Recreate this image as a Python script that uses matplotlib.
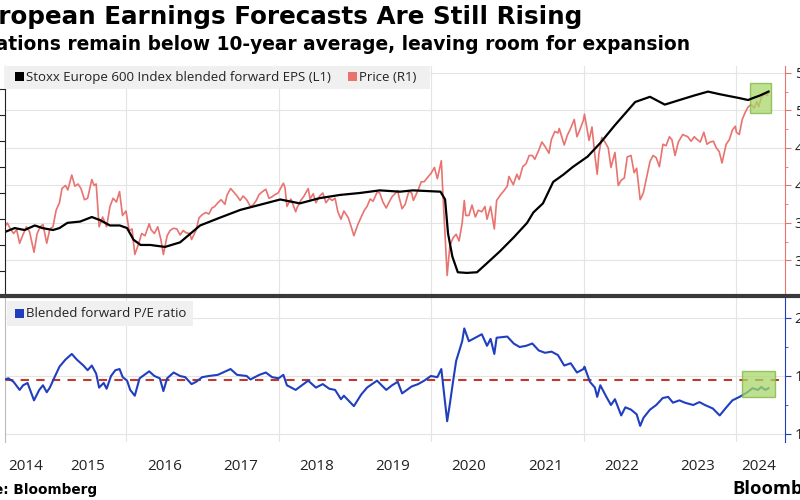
import matplotlib
matplotlib.use('Agg')
import matplotlib.pyplot as plt
from matplotlib.patches import Rectangle
from matplotlib.lines import Line2D
import pandas as pd

# Stoxx Europe 600 price (R1)
price_dates = [
    "2014-05-30", "2014-06-10", "2014-06-25", "2014-07-10", "2014-07-25", "2014-08-08", "2014-08-25",
    "2014-09-10", "2014-09-25", "2014-10-16", "2014-10-31", "2014-11-15", "2014-11-28", "2014-12-16",
    "2014-12-31", "2015-01-15", "2015-01-30", "2015-02-15", "2015-02-27", "2015-03-16", "2015-03-27",
    "2015-04-15", "2015-04-30", "2015-05-15", "2015-05-29", "2015-06-15", "2015-06-30", "2015-07-20",
    "2015-07-31", "2015-08-10", "2015-08-24", "2015-09-10", "2015-09-29", "2015-10-15", "2015-10-30",
    "2015-11-15", "2015-11-30", "2015-12-14", "2015-12-31", "2016-01-15", "2016-01-29", "2016-02-11",
    "2016-02-29", "2016-03-15", "2016-03-31", "2016-04-20", "2016-04-29", "2016-05-15", "2016-05-31",
    "2016-06-15", "2016-06-27", "2016-07-15", "2016-07-29", "2016-08-15", "2016-08-31", "2016-09-15",
    "2016-09-30", "2016-10-14", "2016-10-31", "2016-11-09", "2016-11-30", "2016-12-15", "2016-12-30",
    "2017-01-16", "2017-01-31", "2017-02-15", "2017-02-28", "2017-03-15", "2017-03-31", "2017-04-18",
    "2017-04-28", "2017-05-15", "2017-05-31", "2017-06-15", "2017-06-30", "2017-07-14", "2017-07-31",
    "2017-08-18", "2017-08-31", "2017-09-15", "2017-09-29", "2017-10-16", "2017-10-31", "2017-11-15",
    "2017-11-30", "2017-12-15", "2017-12-29", "2018-01-23", "2018-01-31", "2018-02-09", "2018-02-28",
    "2018-03-23", "2018-03-29", "2018-04-16", "2018-04-30", "2018-05-22", "2018-05-31", "2018-06-15",
    "2018-06-28", "2018-07-16", "2018-07-31", "2018-08-15", "2018-08-31", "2018-09-14", "2018-09-28",
    "2018-10-11", "2018-10-26", "2018-11-09", "2018-11-30", "2018-12-14", "2018-12-27", "2019-01-15",
    "2019-01-31", "2019-02-15", "2019-02-28", "2019-03-15", "2019-03-29", "2019-04-17", "2019-04-30",
    "2019-05-15", "2019-05-31", "2019-06-14", "2019-06-28", "2019-07-25", "2019-07-31", "2019-08-15",
    "2019-08-30", "2019-09-16", "2019-09-30", "2019-10-08", "2019-10-31", "2019-11-15", "2019-11-29",
    "2019-12-13", "2019-12-31", "2020-01-17", "2020-01-31", "2020-02-19", "2020-02-28", "2020-03-12",
    "2020-03-18", "2020-03-31", "2020-04-15", "2020-04-30", "2020-05-14", "2020-05-29", "2020-06-08",
    "2020-06-15", "2020-06-30", "2020-07-15", "2020-07-31", "2020-08-14", "2020-08-31", "2020-09-15",
    "2020-09-25", "2020-10-12", "2020-10-30", "2020-11-10", "2020-11-30", "2020-12-15", "2020-12-31",
    "2021-01-08", "2021-01-29", "2021-02-15", "2021-02-26", "2021-03-15", "2021-03-31", "2021-04-15",
    "2021-04-30", "2021-05-12", "2021-05-31", "2021-06-15", "2021-06-30", "2021-07-19", "2021-07-30",
    "2021-08-16", "2021-08-31", "2021-09-06", "2021-09-30", "2021-10-15", "2021-10-29", "2021-11-17",
    "2021-11-30", "2021-12-15", "2021-12-31", "2022-01-05", "2022-01-27", "2022-02-10", "2022-02-24",
    "2022-03-07", "2022-03-15", "2022-03-29", "2022-04-15", "2022-04-29", "2022-05-12", "2022-05-31",
    "2022-06-16", "2022-06-30", "2022-07-15", "2022-07-29", "2022-08-16", "2022-08-31", "2022-09-12",
    "2022-09-29", "2022-10-14", "2022-10-31", "2022-11-15", "2022-11-30", "2022-12-15", "2022-12-30",
    "2023-01-16", "2023-01-31", "2023-02-16", "2023-02-28", "2023-03-15", "2023-03-31", "2023-04-21",
    "2023-04-28", "2023-05-15", "2023-05-31", "2023-06-15", "2023-06-30", "2023-07-14", "2023-07-31",
    "2023-08-15", "2023-08-31", "2023-09-15", "2023-09-29", "2023-10-13", "2023-10-26", "2023-11-15",
    "2023-11-30", "2023-12-15", "2023-12-29", "2024-01-03", "2024-01-17", "2024-01-31", "2024-02-15",
    "2024-02-29", "2024-03-15", "2024-03-28", "2024-04-10", "2024-04-19", "2024-04-30", "2024-05-15",
    "2024-05-31", "2024-06-05",
]
price_vals = [
    346, 350, 342, 336, 341, 323, 335,
    345, 338, 311, 336, 345, 348, 323,
    342, 345, 367, 377, 396, 400, 394,
    414, 399, 402, 396, 381, 383, 408,
    400, 402, 345, 358, 345, 372, 383,
    378, 392, 360, 366, 340, 342, 308,
    322, 336, 333, 349, 341, 336, 345,
    328, 308, 333, 340, 343, 342, 334,
    340, 337, 336, 328, 340, 357, 361,
    364, 362, 370, 372, 377, 381, 375,
    387, 396, 391, 386, 380, 386, 381,
    372, 374, 380, 388, 392, 395, 383,
    385, 388, 390, 403, 397, 372, 382,
    365, 370, 380, 385, 396, 382, 389,
    377, 386, 390, 377, 383, 380, 383,
    365, 355, 366, 357, 345, 333, 348,
    358, 367, 372, 382, 379, 391, 390,
    378, 370, 378, 385, 393, 385, 369,
    375, 392, 390, 380, 394, 405, 405,
    410, 416, 424, 409, 433, 381, 312,
    280, 320, 330, 335, 326, 350, 380,
    360, 360, 374, 358, 367, 365, 372,
    355, 372, 342, 380, 388, 393, 399,
    412, 401, 415, 408, 425, 429, 440,
    440, 435, 447, 458, 452, 443, 461,
    472, 470, 476, 454, 467, 475, 488,
    465, 475, 487, 495, 460, 478, 440,
    415, 442, 464, 457, 450, 424, 444,
    400, 407, 410, 438, 440, 417, 423,
    381, 390, 412, 432, 440, 437, 425,
    455, 453, 465, 461, 440, 458, 468,
    467, 465, 459, 465, 461, 458, 471,
    455, 458, 459, 450, 445, 430, 455,
    461, 474, 479, 471, 468, 488, 498,
    505, 508, 503, 512, 505, 516, 522,
    520, 526,
]

# Blended forward EPS (L1)
eps_dates = [
    "2014-05-30", "2014-07-15", "2014-09-01", "2014-10-20", "2014-11-25", "2015-01-15", "2015-02-15",
    "2015-03-25", "2015-05-25", "2015-07-20", "2015-08-30", "2015-10-15", "2015-12-01", "2016-01-05",
    "2016-02-05", "2016-03-10", "2016-04-25", "2016-07-05", "2016-09-15", "2016-12-20", "2017-03-25",
    "2017-07-01", "2017-10-05", "2018-01-08", "2018-04-12", "2018-07-15", "2018-10-22", "2019-01-25",
    "2019-04-30", "2019-08-05", "2019-10-05", "2020-02-15", "2020-03-08", "2020-03-22", "2020-04-12",
    "2020-05-08", "2020-06-20", "2020-08-08", "2020-09-25", "2020-11-25", "2021-02-01", "2021-04-05",
    "2021-05-05", "2021-06-20", "2021-08-08", "2021-09-25", "2021-11-10", "2022-01-20", "2022-03-22",
    "2022-05-30", "2022-09-05", "2022-11-15", "2023-01-25", "2023-04-05", "2023-06-15", "2023-08-20",
    "2023-10-15", "2023-12-01", "2024-01-18", "2024-02-28", "2024-03-22", "2024-04-25", "2024-06-05",
]
eps_vals = [
    25.0, 25.3, 25.15, 25.5, 25.3, 25.15, 25.3,
    25.7, 25.8, 26.15, 25.9, 25.5, 25.5, 25.3,
    24.4, 24.0, 24.0, 23.85, 24.2, 25.5, 26.1,
    26.7, 27.1, 27.5, 27.2, 27.6, 27.85, 28.0,
    28.2, 28.1, 28.2, 28.1, 27.5, 24.9, 23.1,
    21.9, 21.85, 21.9, 22.6, 23.5, 24.6, 25.7,
    26.5, 27.2, 28.85, 29.4, 30.0, 30.8, 31.85,
    33.2, 35.0, 35.4, 34.8, 35.15, 35.5, 35.8,
    35.6, 35.45, 35.3, 35.15, 35.3, 35.5, 35.8,
]

# Blended forward P/E ratio
pe_dates = [
    "2014-05-30", "2014-06-15", "2014-07-10", "2014-08-08", "2014-08-25", "2014-09-15", "2014-10-16",
    "2014-11-10", "2014-11-28", "2014-12-16", "2014-12-31", "2015-01-20", "2015-02-15", "2015-03-15",
    "2015-04-15", "2015-05-10", "2015-06-10", "2015-06-30", "2015-07-20", "2015-08-10", "2015-08-24",
    "2015-09-15", "2015-09-29", "2015-10-20", "2015-11-10", "2015-11-30", "2015-12-15", "2016-01-05",
    "2016-01-20", "2016-02-11", "2016-03-05", "2016-04-20", "2016-05-15", "2016-06-10", "2016-06-27",
    "2016-07-15", "2016-08-15", "2016-09-15", "2016-10-10", "2016-11-09", "2016-12-01", "2016-12-30",
    "2017-01-31", "2017-03-15", "2017-05-15", "2017-06-15", "2017-07-31", "2017-08-18", "2017-09-30",
    "2017-10-31", "2017-11-30", "2017-12-31", "2018-01-23", "2018-02-09", "2018-03-23", "2018-05-22",
    "2018-06-28", "2018-07-31", "2018-08-31", "2018-09-28", "2018-10-26", "2018-11-09", "2018-12-27",
    "2019-01-31", "2019-02-28", "2019-04-17", "2019-05-31", "2019-06-28", "2019-07-25", "2019-08-15",
    "2019-09-30", "2019-10-31", "2019-11-29", "2019-12-31", "2020-01-31", "2020-02-19", "2020-03-18",
    "2020-03-31", "2020-04-15", "2020-04-30", "2020-05-29", "2020-06-08", "2020-06-30", "2020-07-31",
    "2020-08-31", "2020-09-25", "2020-10-12", "2020-10-30", "2020-11-10", "2020-12-31", "2021-01-31",
    "2021-02-28", "2021-03-31", "2021-04-30", "2021-05-31", "2021-06-30", "2021-07-31", "2021-08-31",
    "2021-09-30", "2021-10-31", "2021-11-30", "2021-12-31", "2022-01-05", "2022-01-31", "2022-02-24",
    "2022-03-07", "2022-03-22", "2022-04-20", "2022-05-12", "2022-05-31", "2022-06-30", "2022-07-20",
    "2022-08-16", "2022-09-12", "2022-09-29", "2022-10-15", "2022-11-15", "2022-12-15", "2023-01-15",
    "2023-02-10", "2023-03-05", "2023-04-05", "2023-05-01", "2023-06-10", "2023-07-10", "2023-08-05",
    "2023-09-12", "2023-10-15", "2023-11-16", "2023-12-15", "2024-01-18", "2024-02-25", "2024-03-20",
    "2024-04-15", "2024-05-01", "2024-05-20", "2024-06-05",
]
pe_vals = [
    14.7, 14.8, 14.5, 13.8, 14.2, 14.4, 12.9,
    13.8, 14.2, 13.6, 14.0, 14.8, 15.8, 16.4,
    16.9, 16.4, 15.9, 15.5, 15.9, 15.2, 14.0,
    14.4, 13.9, 15.0, 15.5, 15.6, 14.9, 14.6,
    13.8, 13.3, 14.8, 15.4, 15.0, 14.8, 13.7,
    14.8, 15.3, 15.0, 14.9, 14.3, 14.5, 14.9,
    15.0, 15.1, 15.6, 15.1, 15.0, 14.7, 15.1,
    15.3, 14.9, 14.8, 15.1, 14.2, 13.8, 14.6,
    14.0, 14.3, 13.9, 13.8, 13.0, 13.3, 12.4,
    13.4, 14.0, 14.6, 13.8, 14.2, 14.5, 13.5,
    14.1, 14.3, 14.6, 15.0, 14.9, 15.6, 11.1,
    12.6, 14.5, 16.3, 18.0, 19.1, 18.0, 18.3,
    18.6, 17.6, 18.2, 16.9, 18.3, 18.4, 17.8,
    17.5, 17.6, 17.8, 17.2, 17.0, 17.1, 16.8,
    15.9, 16.1, 15.3, 15.6, 15.8, 14.5, 14.0,
    13.2, 14.2, 13.2, 12.5, 13.0, 11.6, 12.3,
    12.1, 11.7, 10.7, 11.4, 12.1, 12.5, 13.1,
    13.2, 12.7, 12.9, 12.7, 12.5, 12.75, 12.5,
    12.2, 11.6, 12.3, 12.9, 13.2, 13.6, 13.95,
    13.8, 14.05, 13.8, 13.95,
]
pe_avg = 14.66

year_labels = ["2014", "2015", "2016", "2017", "2018", "2019", "2020", "2021", "2022", "2023", "2024"]
year_label_dates = ["2014-09-08", "2015-07-01", "2016-07-01", "2017-07-01", "2018-07-01", "2019-07-01",
                    "2020-07-01", "2021-07-01", "2022-07-01", "2023-07-01", "2024-04-20"]
eps_ticks = [22, 24, 26, 28, 30, 32, 34, 36]
price_ticks = [300, 350, 400, 450, 500, 550]
pe_ticks = [10, 15, 20]

W, H = 800, 500
RED = "#e8736f"
BLUE = "#1f3fbf"
GRID = "#e4e4e4"


def fx(x):
    return x / W


def fy(y):
    return 1 - y / H


plt.rcParams['font.family'] = ['Open Sans', 'DejaVu Sans']

fig = plt.figure(figsize=(8, 5), dpi=100)
ax_eps = fig.add_axes([fx(5), fy(295), fx(780), (295 - 66) / H])
ax_px = ax_eps.twinx()
ax_pe = fig.add_axes([fx(5), fy(442), fx(780), (442 - 297) / H], sharex=ax_eps)

pdates = pd.to_datetime(price_dates)
edates = pd.to_datetime(eps_dates)
qdates = pd.to_datetime(pe_dates)

# top panel: price behind, EPS in front
ax_px.plot(pdates, price_vals, color=RED, lw=1.2)
ax_eps.plot(edates, eps_vals, color="black", lw=1.6)
ax_eps.set_zorder(ax_px.get_zorder() + 1)
ax_eps.patch.set_visible(False)

ax_eps.set_ylim(20.15, 37.77)
ax_px.set_ylim(254, 559.3)
# left-axis labels sit outside the cropped frame in the reference, only the tick marks show
ax_eps.set_yticks(eps_ticks)
ax_eps.set_yticklabels([])
ax_px.set_yticks(price_ticks)
ax_px.set_yticks([325, 375, 425, 475, 525], minor=True)
ax_px.set_yticklabels([str(t) for t in price_ticks])
ax_px.grid(axis='y', color=GRID, lw=0.8)

# bottom panel
ax_pe.plot(qdates, pe_vals, color=BLUE, lw=1.5, zorder=3)
ax_pe.axhline(pe_avg, color="#c0392b", lw=1.5, ls=(0, (4, 3.5)), zorder=2)
ax_pe.set_ylim(9.31, 21.81)
ax_pe.yaxis.tick_right()
ax_pe.set_yticks(pe_ticks)
ax_pe.set_yticks([12.5, 17.5], minor=True)
ax_pe.set_yticklabels([str(t) for t in pe_ticks])
ax_pe.grid(axis='y', color=GRID, lw=0.8)

ax_pe.set_xlim(pd.Timestamp("2014-05-30"), pd.Timestamp("2024-08-23"))
for yr in ["2016", "2018", "2020", "2022", "2024"]:
    for a in (ax_px, ax_pe):
        a.axvline(pd.Timestamp(yr + "-01-01"), color=GRID, lw=0.8, zorder=0)

ax_pe.set_xticks(pd.to_datetime(year_label_dates))
ax_pe.set_xticklabels(year_labels)
ax_pe.tick_params(axis='x', length=0, pad=12, labelsize=11, labelcolor="#222222")
ax_eps.tick_params(axis='x', length=0, labelbottom=False)

# spines and ticks
for a in (ax_eps, ax_px, ax_pe):
    for s in a.spines.values():
        s.set_visible(False)
ax_eps.spines['left'].set_visible(True)
ax_eps.spines['left'].set_color("#222222")
ax_eps.tick_params(axis='y', direction='out', length=4, color="#222222")
ax_px.spines['right'].set_visible(True)
ax_px.spines['right'].set_color(RED)
ax_px.tick_params(axis='y', which='major', direction='out', length=4, color=RED, labelsize=11,
                  labelcolor="#222222", pad=3)
ax_px.tick_params(axis='y', which='minor', direction='out', length=2, color=RED)
ax_pe.spines['left'].set_visible(True)
ax_pe.spines['left'].set_color("#bbbbbb")
ax_pe.spines['right'].set_visible(True)
ax_pe.spines['right'].set_color(BLUE)
ax_pe.tick_params(axis='y', which='major', direction='out', length=4, color=BLUE, labelsize=11,
                  labelcolor="#222222", pad=3)
ax_pe.tick_params(axis='y', which='minor', direction='out', length=2, color=BLUE)

# highlight boxes on the latest readings
ax_px.add_patch(Rectangle((pd.Timestamp("2024-03-08"), 496.7),
                          pd.Timestamp("2024-06-17") - pd.Timestamp("2024-03-08"), 40,
                          facecolor="#a8d86a", edgecolor="#7cb342", lw=1, alpha=0.75, zorder=5))
ax_pe.add_patch(Rectangle((pd.Timestamp("2024-01-30"), 13.19),
                          pd.Timestamp("2024-07-08") - pd.Timestamp("2024-01-30"), 2.24,
                          facecolor="#a8d86a", edgecolor="#7cb342", lw=1, alpha=0.75, zorder=5))

# legend bands
fig.add_artist(Rectangle((fx(5), fy(89)), fx(425), 23 / H, transform=fig.transFigure,
                         facecolor="#f0f0f0", edgecolor="none", zorder=2))
fig.add_artist(Rectangle((fx(15), fy(81)), fx(9), 9 / H, transform=fig.transFigure,
                         facecolor="black", edgecolor="none", zorder=3))
fig.text(fx(26), fy(77.5), "Stoxx Europe 600 Index blended forward EPS (L1)", fontsize=9.5,
         color="#222222", va='center', ha='left', zorder=3)
fig.add_artist(Rectangle((fx(348), fy(81)), fx(9), 9 / H, transform=fig.transFigure,
                         facecolor=RED, edgecolor="none", zorder=3))
fig.text(fx(359), fy(77.5), "Price (R1)", fontsize=9.5, color="#222222", va='center', ha='left', zorder=3)

fig.add_artist(Rectangle((fx(7), fy(326)), fx(186), 25 / H, transform=fig.transFigure,
                         facecolor="#f0f0f0", edgecolor="none", zorder=2))
fig.add_artist(Rectangle((fx(15), fy(318)), fx(9), 9 / H, transform=fig.transFigure,
                         facecolor=BLUE, edgecolor="none", zorder=3))
fig.text(fx(26), fy(313.5), "Blended forward P/E ratio", fontsize=9.5, color="#222222",
         va='center', ha='left', zorder=3)

# panel separator
fig.add_artist(Line2D([0, 1], [fy(295.5), fy(295.5)], transform=fig.transFigure,
                      color="#3a3a3a", lw=3, zorder=4))

# titles and footer (the reference image is cropped on the left and right)
fig.text(fx(582), fy(17), "European Earnings Forecasts Are Still Rising", fontsize=17.7,
         fontweight='bold', family='DejaVu Sans', ha='right', va='center', color="black")
fig.text(fx(690), fy(45), "Valuations remain below 10-year average, leaving room for expansion",
         fontsize=13.45, fontweight='bold', family='DejaVu Sans', ha='right', va='center', color="black")
fig.text(fx(97), fy(490), "Source: Bloomberg", fontsize=9.8, fontweight='bold', family='DejaVu Sans',
         ha='right', va='center', color="black")
fig.text(fx(732), fy(489), "Bloomberg", fontsize=13.2, fontweight='bold', family='Open Sans',
         ha='left', va='center', color="black")

fig.savefig("out.png", dpi=100)
